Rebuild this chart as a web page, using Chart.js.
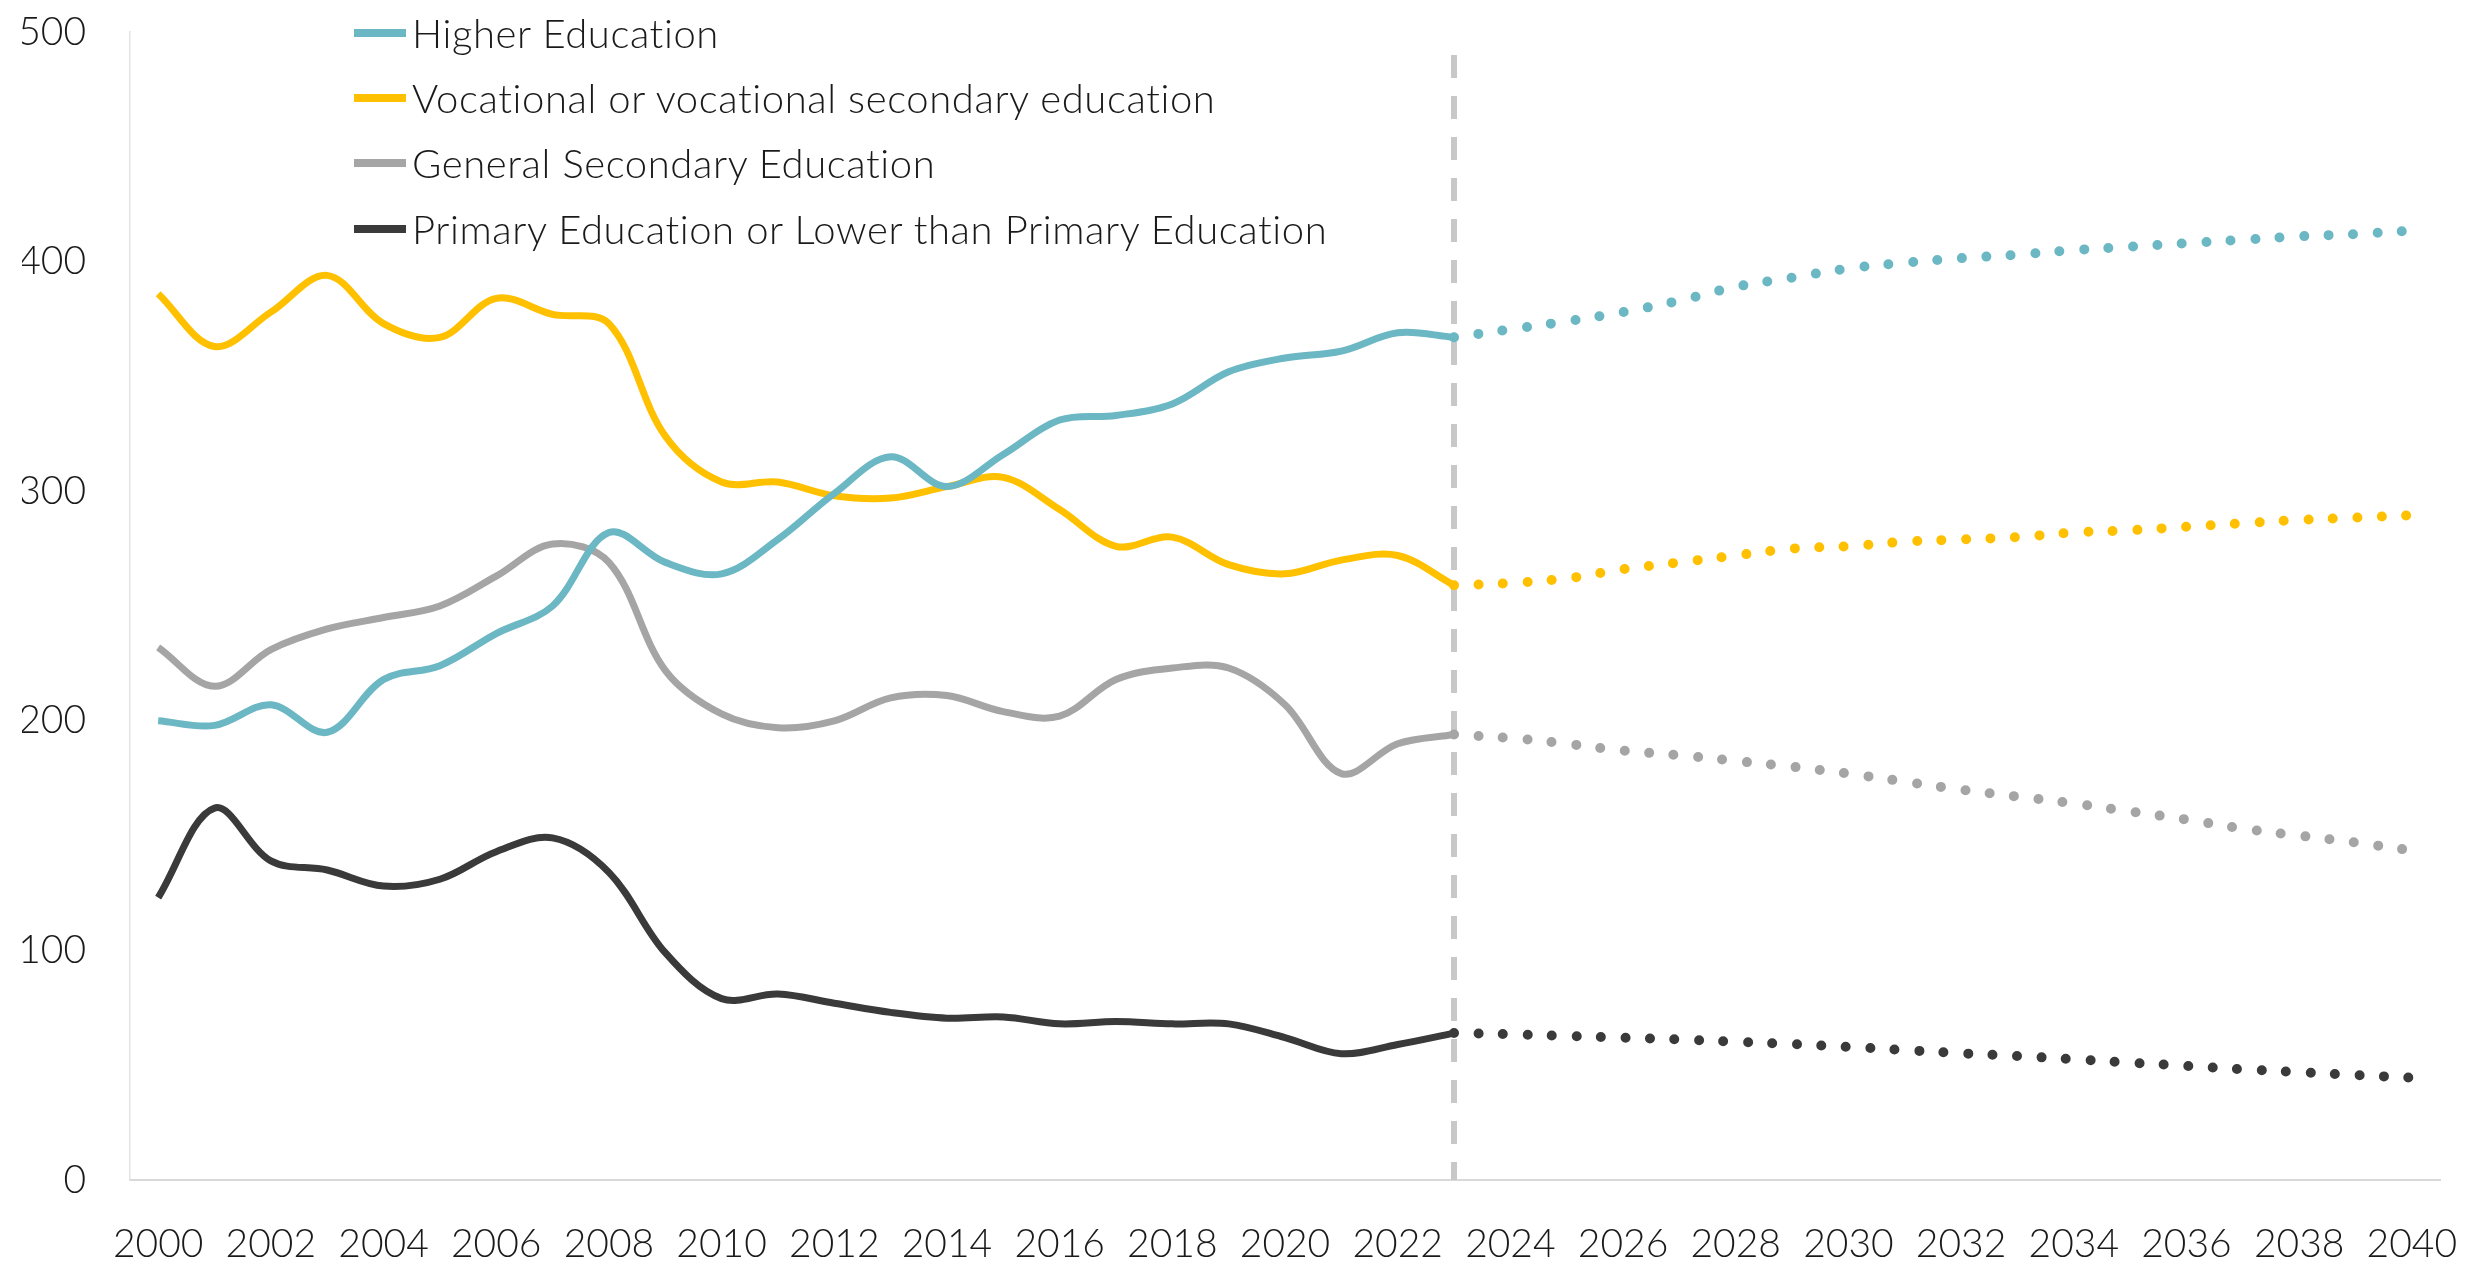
<!DOCTYPE html>
<html>
<head>
<meta charset="utf-8">
<script src="https://cdn.jsdelivr.net/npm/chart.js@4.4.1/dist/chart.umd.min.js"></script>
<style>
    html, body { margin: 0; padding: 0; background: #fff; }
    #wrap { position: relative; width: 2473px; height: 1266px; }
    #legend {
        position: absolute; left: 354px; top: 0;
        font-family: 'Segoe UI', Lato, sans-serif; font-weight: 300;
        font-size: 40px; letter-spacing: 0.6px; color: #1a1a1a;
    }
    #legend .item { display: flex; align-items: center; height: 65.3px; white-space: nowrap; }
    #legend .swatch { width: 52px; height: 8px; margin-right: 6px; }
</style>
</head>
<body>
<div id="wrap">
    <canvas id="edu-chart"></canvas>
    <div id="legend"></div>
</div>
<script>
const years = ['2000', '2001', '2002', '2003', '2004', '2005', '2006', '2007', '2008', '2009',
    '2010', '2011', '2012', '2013', '2014', '2015', '2016', '2017', '2018', '2019',
    '2020', '2021', '2022', '2023', '2024', '2025', '2026', '2027', '2028', '2029',
    '2030', '2031', '2032', '2033', '2034', '2035', '2036', '2037', '2038', '2039', '2040'];
const tickYears = ['2000', '2002', '2004', '2006', '2008', '2010', '2012', '2014', '2016', '2018',
    '2020', '2022', '2024', '2026', '2028', '2030', '2032', '2034', '2036', '2038', '2040'];
const yTicks = [0, 100, 200, 300, 400, 500];

const seriesNames = [
    'Higher Education',
    'Vocational or vocational secondary education',
    'General Secondary Education',
    'Primary Education or Lower than Primary Education'
];
const seriesColors = ['#6BB7C3', '#FFC000', '#A5A5A5', '#3A3A3A'];

// actual values 2000-2023
const higherActual = [200, 198, 207, 195, 218, 224, 238, 250, 282, 269, 264, 279, 299, 315, 302, 316, 331, 333, 338, 352, 358, 361, 369, 367];
const vocationalActual = [386, 363, 378, 394, 373, 367, 384, 377, 373, 324, 304, 304, 298, 297, 302, 306, 292, 276, 280, 268, 264, 270, 272, 259];
const generalActual = [232, 215, 231, 240, 245, 250, 263, 277, 269, 222, 203, 197, 200, 210, 211, 204, 202, 218, 223, 223, 207, 177, 190, 194];
const primaryActual = [123, 162, 139, 135, 128, 131, 143, 149, 134, 99, 79, 81, 77, 73, 70.5, 71, 68, 69, 68, 68, 62, 55, 59, 64];

// projections 2023-2040
const higherForecast = [367, 370.5, 374, 378, 383, 389, 393, 397, 399.5, 401.5, 403, 405, 406.5, 408, 409.5, 411, 412, 413.5];
const vocationalForecast = [259, 260, 262, 266, 269, 272, 275, 276, 278, 279, 280, 282, 283, 284.5, 286, 287.5, 288.5, 289.5];
const generalForecast = [194, 192.5, 190, 187, 185, 182.5, 180, 177, 173.5, 170, 167, 164, 160.5, 157, 153, 150, 147, 143.5];
const primaryForecast = [64, 63.5, 62.7, 62, 61.2, 60.2, 59.2, 58, 56.6, 55.2, 54, 52.6, 51.1, 49.7, 48.2, 47, 45.7, 44.6];

const splitYear = '2023';
const splitLineRange = [490, 0];

const actuals = [higherActual, vocationalActual, generalActual, primaryActual];
const forecasts = [higherForecast, vocationalForecast, generalForecast, primaryForecast];

const fontFamily = "'Segoe UI', Lato, sans-serif";

function padRight(arr) {
    return arr.concat(new Array(years.length - arr.length).fill(null));
}
function padLeft(arr) {
    return new Array(years.length - arr.length).fill(null).concat(arr);
}

const datasets = [];
actuals.forEach((arr, i) => {
    datasets.push({
        label: seriesNames[i],
        data: padRight(arr),
        borderColor: seriesColors[i],
        borderWidth: 7,
        tension: 0.35,
        pointRadius: 0,
        fill: false
    });
});
forecasts.forEach((arr, i) => {
    datasets.push({
        label: seriesNames[i] + ' (forecast)',
        data: padLeft(arr),
        borderColor: seriesColors[i],
        borderWidth: 10,
        borderDash: [0, 24.5],
        borderCapStyle: 'round',
        tension: 0.35,
        pointRadius: 0,
        fill: false
    });
});
datasets.push({
    label: 'split',
    data: splitLineRange.map(v => ({ x: splitYear, y: v })),
    borderColor: '#C8C8C8',
    borderWidth: 6,
    borderDash: [23, 18],
    tension: 0,
    pointRadius: 0,
    fill: false
});

const ctx = document.getElementById('edu-chart');
new Chart(ctx, {
    type: 'line',
    data: { labels: years, datasets: datasets },
    options: {
        responsive: true,
        maintainAspectRatio: false,
        animation: false,
        layout: { padding: { left: 22, right: 33, top: 32, bottom: 0 } },
        plugins: {
            legend: { display: false },
            tooltip: { enabled: false }
        },
        scales: {
            x: {
                offset: true,
                grid: { display: false, drawTicks: false },
                border: { display: true, color: '#D9D9D9', width: 2 },
                afterFit: axis => {
                    axis.height = 86;
                    axis.paddingLeft = 0;
                    axis.paddingRight = 0;
                },
                ticks: {
                    autoSkip: false,
                    maxRotation: 0,
                    padding: 41,
                    color: '#1a1a1a',
                    font: { family: fontFamily, size: 39, weight: '300' },
                    callback: function(value) {
                        const lbl = this.getLabelForValue(value);
                        return tickYears.includes(lbl) ? lbl : '';
                    }
                }
            },
            y: {
                min: yTicks[0],
                max: yTicks[yTicks.length - 1],
                grid: { display: false, drawTicks: false },
                border: { display: true, color: '#E3E3E3', width: 1.5 },
                afterBuildTicks: axis => { axis.ticks = yTicks.map(v => ({ value: v })); },
                afterFit: axis => {
                    axis.width = 108;
                    axis.paddingTop = 0;
                    axis.paddingBottom = 0;
                },
                ticks: {
                    padding: 44,
                    color: '#1a1a1a',
                    font: { family: fontFamily, size: 39, weight: '300' }
                }
            }
        }
    }
});

// legend
const legendEl = document.getElementById('legend');
seriesNames.forEach((name, i) => {
    const item = document.createElement('div');
    item.className = 'item';
    const sw = document.createElement('span');
    sw.className = 'swatch';
    sw.style.background = seriesColors[i];
    const txt = document.createElement('span');
    txt.textContent = name;
    item.appendChild(sw);
    item.appendChild(txt);
    legendEl.appendChild(item);
});
</script>
</body>
</html>
